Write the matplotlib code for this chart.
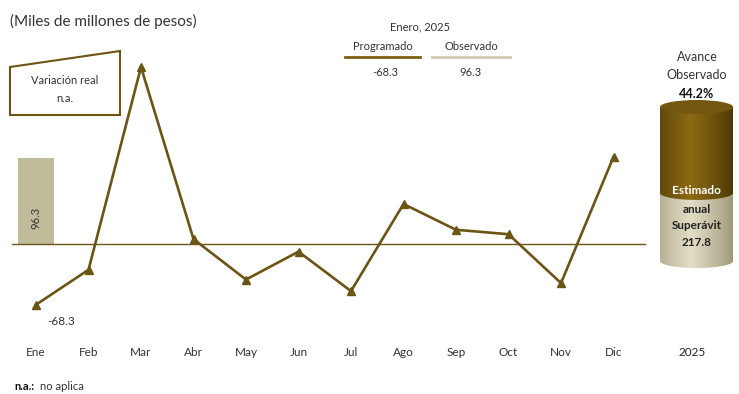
import matplotlib.pyplot as plt
import numpy as np
from matplotlib.colors import to_rgb
from matplotlib.patches import Polygon, Ellipse, PathPatch
from matplotlib.path import Path

plt.rcParams['font.family'] = ['Lato', 'DejaVu Sans']

MESES = ['Ene', 'Feb', 'Mar', 'Abr', 'May', 'Jun', 'Jul', 'Ago', 'Sep', 'Oct', 'Nov', 'Dic']
PROGRAMADO = [-68.3, -29.0, 199.0, 5.5, -40.0, -8.6, -53.0, 45.0, 16.0, 11.0, -44.0, 98.0]
OBSERVADO = [96.3]
AVANCE = 44.2
SUPERAVIT = 217.8
ANIO = '2025'

BROWN = '#6b5514'
BEIGE = '#bfbb9b'
TXT = '#333333'

W, H = 739, 394
PX_X = 52.5      # pixeles por mes
PX_Y = 1.125     # unidades por pixel
X0, Y0 = 36, 244


def fig_xy(x, y):
    return x / W, 1 - y / H


fig = plt.figure(figsize=(W / 100, H / 100), dpi=100)
ax = fig.add_axes([0, 0, 1, 1])
ax.set_xlim(-X0 / PX_X, (W - X0) / PX_X)
ax.set_ylim(-(H - Y0) * PX_Y, Y0 * PX_Y)
ax.axis('off')

x = np.arange(len(MESES))

# barra observado
ax.bar(x[:len(OBSERVADO)], OBSERVADO, width=0.7, color=BEIGE, zorder=1)
for i, v in enumerate(OBSERVADO):
    ax.text(x[i], v * 0.3, f'{v:.1f}', rotation=90, ha='center', va='center',
            fontsize=8, color=TXT, zorder=3)

# linea de cero
ax.plot([-0.46, 11.6], [0, 0], color=BROWN, lw=1.0, zorder=2)

# programado
ax.plot(x, PROGRAMADO, color=BROWN, lw=1.9, marker='^', markersize=6, zorder=4)
ax.annotate(f'{PROGRAMADO[0]:.1f}', (x[0], PROGRAMADO[0]), xytext=(18, -12),
            textcoords='offset points', ha='center', va='center', fontsize=8.5, color=TXT)

# etiquetas de meses
for i, m in enumerate(MESES):
    ax.text(x[i], -121.5, m, ha='center', va='center', fontsize=8.5, color=TXT)
ax.text(12.5, -121.5, ANIO, ha='center', va='center', fontsize=8.5, color='#222222')

# titulo de unidades
fig.text(*fig_xy(10, 21), '(Miles de millones de pesos)', fontsize=11, color=TXT,
         ha='left', va='center')

# recuadro variacion real
box = Polygon([fig_xy(10, 67), fig_xy(120, 51), fig_xy(120, 115), fig_xy(10, 115)],
              closed=True, transform=fig.transFigure, fill=False, edgecolor=BROWN, lw=1.5)
fig.patches.append(box)
fig.text(*fig_xy(65, 80), 'Variación real', fontsize=8, color=TXT, ha='center', va='center')
fig.text(*fig_xy(65, 98), 'n.a.', fontsize=8, color=TXT, ha='center', va='center')

# leyenda superior
fig.text(*fig_xy(420, 27), 'Enero, 2025', fontsize=8, color=TXT, ha='center', va='center')
fig.text(*fig_xy(383, 46), 'Programado', fontsize=8, color=TXT, ha='center', va='center')
fig.text(*fig_xy(471, 46), 'Observado', fontsize=8, color=TXT, ha='center', va='center')
fig.lines.append(plt.Line2D([345 / W, 420 / W], [1 - 57 / H] * 2, transform=fig.transFigure,
                            color='#7d5e12', lw=2))
fig.lines.append(plt.Line2D([432 / W, 510 / W], [1 - 57 / H] * 2, transform=fig.transFigure,
                            color='#cfcbb0', lw=2))
fig.text(*fig_xy(385, 72), f'{PROGRAMADO[0]:.1f}', fontsize=8, color=TXT, ha='center', va='center')
fig.text(*fig_xy(470, 72), f'{OBSERVADO[0]:.1f}', fontsize=8, color=TXT, ha='center', va='center')

# cilindro avance
fig.text(*fig_xy(697, 57), 'Avance', fontsize=9, color=TXT, ha='center', va='center')
fig.text(*fig_xy(697, 75), 'Observado', fontsize=9, color=TXT, ha='center', va='center')
fig.text(*fig_xy(697, 94), f'{AVANCE:.1f}%', fontsize=9, color='#111111', ha='center',
         va='center', fontweight='bold')

cx0, cx1, ctop, cbot = 660, 733, 100, 268
cax = fig.add_axes([cx0 / W, 1 - cbot / H, (cx1 - cx0) / W, (cbot - ctop) / H])
eh = 9.1
cax.set_xlim(0, 1)
cax.set_ylim(-eh / 2, 100 + eh / 2)
cax.axis('off')


def cyl_segment(y0, y1, c_edge, c_mid, z):
    # cuerpo con elipse inferior, sombreado horizontal
    t = np.linspace(0, np.pi, 60)
    bottom = np.column_stack([0.5 - 0.5 * np.cos(t), y0 - eh / 2 * np.sin(t)])
    verts = np.vstack([[[0, y1]], bottom, [[1, y1]], [[0, y1]]])
    patch = PathPatch(Path(verts), facecolor='none', edgecolor='none')
    cax.add_patch(patch)
    s = np.linspace(0, 1, 200)
    k = np.clip(1 - np.abs(s - 0.42) / 0.58, 0, 1) ** 0.8
    c0 = np.array(to_rgb(c_edge))
    c1 = np.array(to_rgb(c_mid))
    img = c0[None, None, :] + (c1 - c0)[None, None, :] * k[None, :, None]
    im = cax.imshow(img, extent=[0, 1, y0 - eh, y1], aspect='auto', zorder=z)
    im.set_clip_path(patch)


cyl_segment(0, AVANCE, '#9c9676', '#e2dec6', 1)
cyl_segment(AVANCE, 100, '#4a3707', '#8c6a14', 2)
cax.add_patch(Ellipse((0.5, 100), 1, eh, facecolor='#735711', edgecolor='none', zorder=3))

cax.text(0.5, AVANCE + 1.5, 'Estimado', ha='center', va='center', color='white',
         fontsize=8.5, fontweight='bold', zorder=5)
cax.text(0.5, AVANCE - 11, 'anual', ha='center', va='center', color='#222222',
         fontsize=8.5, fontweight='bold', zorder=5)
cax.text(0.5, AVANCE - 21, 'Superávit', ha='center', va='center', color='#222222',
         fontsize=8.5, fontweight='bold', zorder=5)
cax.text(0.5, AVANCE - 32, f'{SUPERAVIT:.1f}', ha='center', va='center', color='#222222',
         fontsize=8.5, fontweight='bold', zorder=5)

# nota
fig.text(*fig_xy(14, 387), 'n.a.:', fontsize=8, color='#111111', ha='left', va='center',
         fontweight='bold')
fig.text(*fig_xy(40, 387), 'no aplica', fontsize=8, color=TXT, ha='left', va='center')

plt.savefig('out.png', dpi=100)
